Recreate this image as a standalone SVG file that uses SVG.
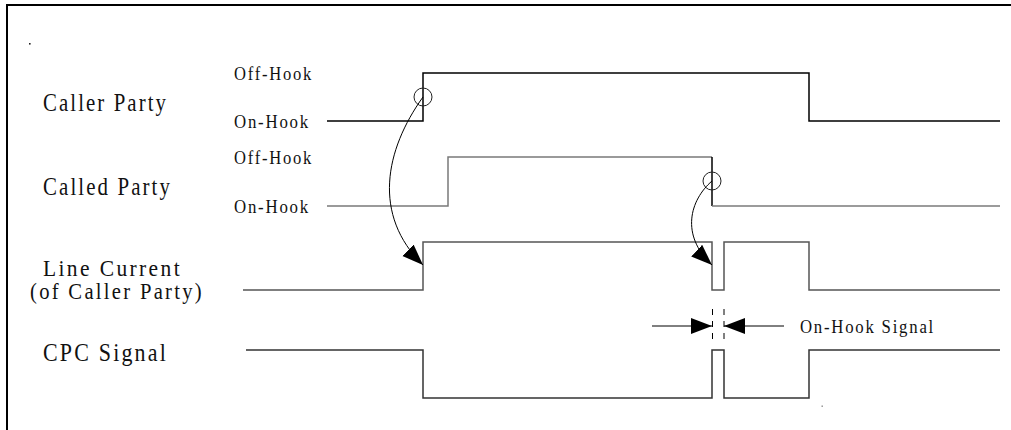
<svg xmlns="http://www.w3.org/2000/svg" width="1011" height="430" viewBox="0 0 1011 430">
<style>
.lbl{font-family:"Liberation Serif","Times New Roman",serif;font-size:25px;letter-spacing:2.5px;fill:#111}
.lc{font-size:22.5px}
.sm{font-family:"Liberation Serif","Times New Roman",serif;font-size:19px;letter-spacing:2px;fill:#111}
.wave{fill:none;stroke-width:1.5;stroke-linejoin:miter}
.conn{fill:none;stroke:#000;stroke-width:1}
.ring{fill:none;stroke:#222;stroke-width:1}
.dash{stroke:#000;stroke-width:1;stroke-dasharray:6 6}
</style>
<defs>
<marker id="ah" markerUnits="userSpaceOnUse" markerWidth="23" markerHeight="18" refX="21" refY="8" orient="auto">
<path d="M0,0 L21,8 L0,16 z" fill="#000"/>
</marker>
</defs>
<rect width="1011" height="430" fill="#fff"/>
<g id="frame">
<path d="M7,430 V5 H1011" fill="none" stroke="#000" stroke-width="2"/>
<rect x="29" y="43" width="1.6" height="1.6" fill="#222"/>
<rect x="821.5" y="405.5" width="1.4" height="1.4" fill="#888"/>
</g>
<g id="caller">
<text class="lbl" x="43" y="111" textLength="125" lengthAdjust="spacingAndGlyphs">Caller Party</text>
<text class="sm" x="234" y="80" textLength="79" lengthAdjust="spacingAndGlyphs">Off-Hook</text>
<text class="sm" x="234" y="128" textLength="76" lengthAdjust="spacingAndGlyphs">On-Hook</text>
<polyline class="wave" stroke="#000" points="327,121 423,121 423,73 809,73 809,121 1000,121"/>
</g>
<g id="called">
<text class="lbl" x="43" y="195" textLength="129" lengthAdjust="spacingAndGlyphs">Called Party</text>
<text class="sm" x="234" y="164" textLength="79" lengthAdjust="spacingAndGlyphs">Off-Hook</text>
<text class="sm" x="234" y="213" textLength="76" lengthAdjust="spacingAndGlyphs">On-Hook</text>
<polyline class="wave" stroke="#7a7a7a" points="327,206 448,206 448,157 712,157"/>
<polyline class="wave" stroke="#000" points="712,157 712,206"/>
<polyline class="wave" stroke="#7a7a7a" points="712,206 1000,206"/>
</g>
<g id="linecurrent">
<text class="lbl lc" x="43" y="276" textLength="139" lengthAdjust="spacingAndGlyphs">Line Current</text>
<text class="lbl lc" x="30" y="299" textLength="174" lengthAdjust="spacingAndGlyphs">(of Caller Party)</text>
<polyline class="wave" stroke="#555" points="243,290 423,290 423,242 712,242 712,290 724,290 724,242 809,242 809,290 1000,290"/>
</g>
<g id="cpc">
<text class="lbl" x="43" y="361" textLength="125" lengthAdjust="spacingAndGlyphs">CPC Signal</text>
<polyline class="wave" stroke="#333" points="246,350 423,350 423,398 712,398 712,350 724,350 724,398 809,398 809,350 1000,350"/>
</g>
<g id="onhook-signal">
<text class="sm" x="800" y="333" textLength="135" lengthAdjust="spacingAndGlyphs">On-Hook Signal</text>
</g>
<g id="connectors">
<circle class="ring" cx="423" cy="97" r="9"/>
<circle class="ring" cx="712" cy="181" r="9"/>
<path class="conn" d="M423,97 C385,150 372,215 423,265" marker-end="url(#ah)"/>
<path class="conn" d="M712,181 C690,200 680,235 712,265" marker-end="url(#ah)"/>
<line class="dash" x1="712.5" y1="309" x2="712.5" y2="340"/>
<line class="dash" x1="724" y1="309" x2="724" y2="340"/>
<line class="conn" x1="652" y1="326" x2="712" y2="326" marker-end="url(#ah)"/>
<line class="conn" x1="784" y1="326" x2="724" y2="326" marker-end="url(#ah)"/>
</g>
</svg>
